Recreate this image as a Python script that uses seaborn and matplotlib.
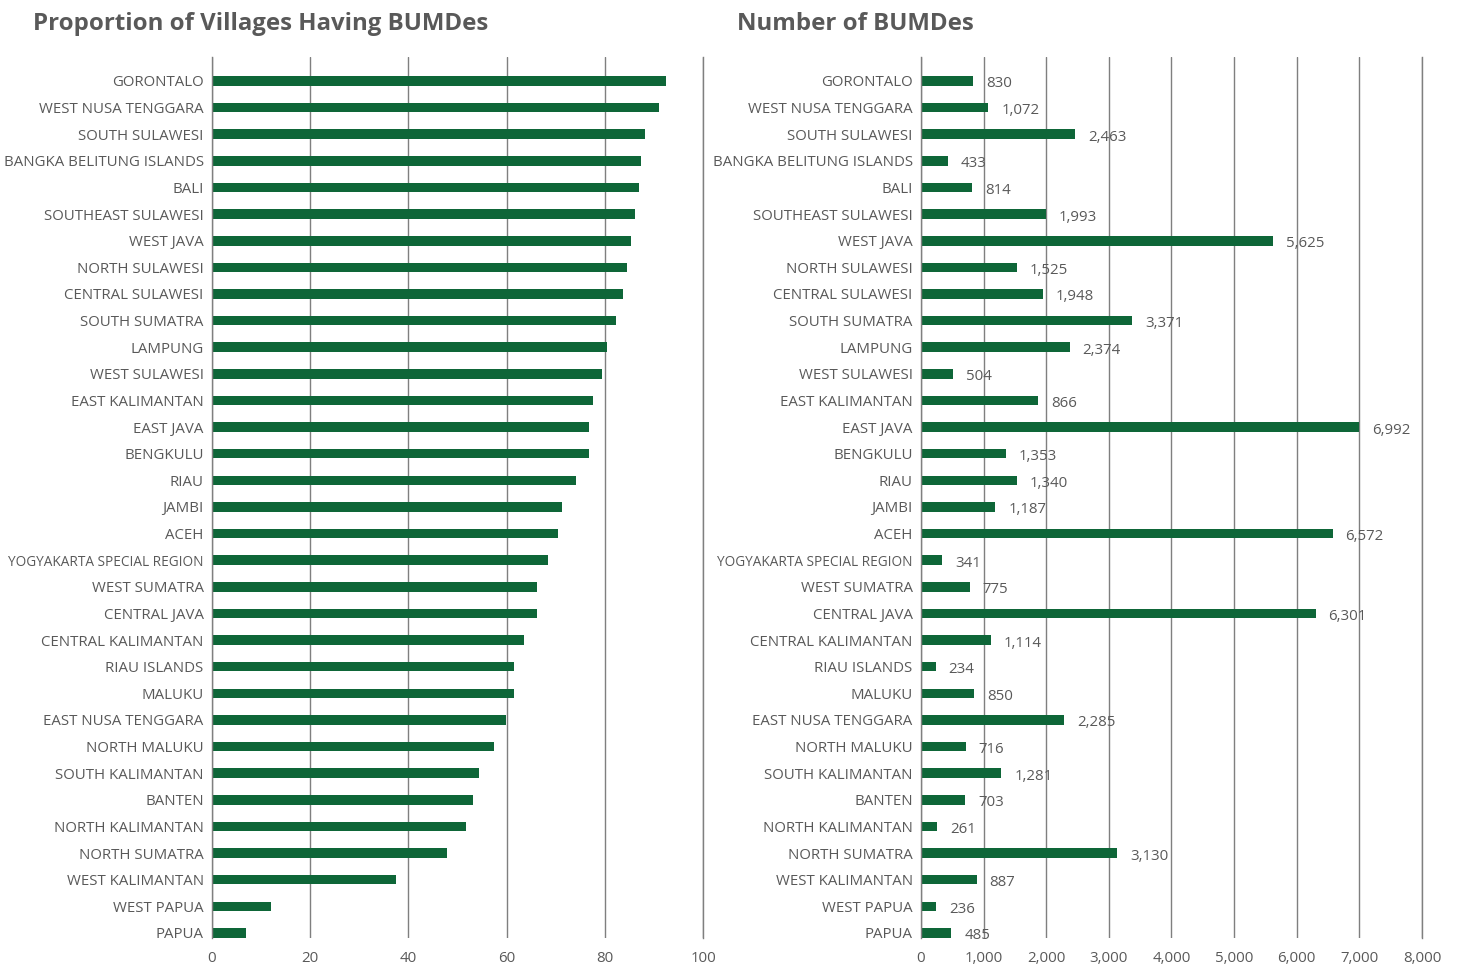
import matplotlib
matplotlib.use("Agg")
import matplotlib.pyplot as plt
import seaborn as sns
import pandas as pd
from matplotlib.ticker import FuncFormatter, FixedLocator

provinces = [
    "GORONTALO", "WEST NUSA TENGGARA", "SOUTH SULAWESI", "BANGKA BELITUNG ISLANDS",
    "BALI", "SOUTHEAST SULAWESI", "WEST JAVA", "NORTH SULAWESI", "CENTRAL SULAWESI",
    "SOUTH SUMATRA", "LAMPUNG", "WEST SULAWESI", "EAST KALIMANTAN", "EAST JAVA",
    "BENGKULU", "RIAU", "JAMBI", "ACEH", "YOGYAKARTA SPECIAL REGION", "WEST SUMATRA",
    "CENTRAL JAVA", "CENTRAL KALIMANTAN", "RIAU ISLANDS", "MALUKU", "EAST NUSA TENGGARA",
    "NORTH MALUKU", "SOUTH KALIMANTAN", "BANTEN", "NORTH KALIMANTAN", "NORTH SUMATRA",
    "WEST KALIMANTAN", "WEST PAPUA", "PAPUA",
]
proportion = [
    92.5, 91.0, 88.1, 87.4, 86.9, 86.1, 85.3, 84.5, 83.7, 82.3, 80.4, 79.4, 77.5,
    76.8, 76.8, 74.1, 71.3, 70.5, 68.4, 66.1, 66.1, 63.6, 61.5, 61.5, 59.9, 57.4,
    54.4, 53.2, 51.7, 47.8, 37.4, 12.0, 6.9,
]
bumdes_count = [
    830, 1072, 2463, 433, 814, 1993, 5625, 1525, 1948, 3371, 2374, 504, 1866,
    6992, 1353, 1525, 1187, 6572, 341, 775, 6301, 1114, 234, 850, 2285, 716,
    1281, 703, 261, 3130, 887, 236, 485,
]
bumdes_labels = [
    "830", "1,072", "2,463", "433", "814", "1,993", "5,625", "1,525", "1,948",
    "3,371", "2,374", "504", "866", "6,992", "1,353", "1,340", "1,187", "6,572",
    "341", "775", "6,301", "1,114", "234", "850", "2,285", "716", "1,281", "703",
    "261", "3,130", "887", "236", "485",
]
prop_ticks = [0, 20, 40, 60, 80, 100]
count_ticks = [0, 1000, 2000, 3000, 4000, 5000, 6000, 7000, 8000]
titles = ["Proportion of Villages Having BUMDes", "Number of BUMDes"]

GREEN = "#0E6638"
TEXT = "#595959"
GRID = "#7F7F7F"

sns.set_theme(style="white")
plt.rcParams["font.family"] = ["Open Sans", "DejaVu Sans"]

W, H = 1458, 965
fig = plt.figure(figsize=(W / 100, H / 100), dpi=100)
top_px, bot_px = 57, 938
ax1 = fig.add_axes([212 / W, 1 - bot_px / H, (703 - 212) / W, (bot_px - top_px) / H])
ax2 = fig.add_axes([921 / W, 1 - bot_px / H, (1422 - 921) / W, (bot_px - top_px) / H])

df = pd.DataFrame({"province": provinces, "proportion": proportion,
                   "count": bumdes_count, "label": bumdes_labels})

sns.barplot(data=df, x="proportion", y="province", ax=ax1, color=GREEN,
            width=0.36, orient="h", saturation=1, linewidth=0)
sns.barplot(data=df, x="count", y="province", ax=ax2, color=GREEN,
            width=0.36, orient="h", saturation=1, linewidth=0)

n = len(provinces)
for ax, ticks in ((ax1, prop_ticks), (ax2, count_ticks)):
    ax.set_xlim(ticks[0], ticks[-1])
    ax.set_ylim(n - 1 + 0.19, -0.9)
    ax.xaxis.set_major_locator(FixedLocator(ticks))
    ax.set_axisbelow(True)
    ax.grid(axis="x", color=GRID, linewidth=1.0)
    ax.grid(axis="y", visible=False)
    for side in ("top", "bottom"):
        ax.spines[side].set_visible(False)
    for side in ("left", "right"):
        ax.spines[side].set_visible(True)
        ax.spines[side].set_color(GRID)
        ax.spines[side].set_linewidth(1.0)
    ax.set_xlabel("")
    ax.set_ylabel("")
    ax.tick_params(axis="y", length=0, pad=6, labelsize=10.8, labelcolor=TEXT)
    ax.tick_params(axis="x", length=0, pad=9, labelsize=10.8, labelcolor=TEXT)
    ax.set_facecolor("white")
    # long label is squeezed in the reference
    for tl in ax.get_yticklabels():
        if len(tl.get_text()) > 23:
            tl.set_fontsize(9.8)

ax2.xaxis.set_major_formatter(FuncFormatter(lambda v, p: f"{int(v):,}"))
ax1.xaxis.set_major_formatter(FuncFormatter(lambda v, p: f"{int(v)}"))

for i, (v, lbl) in enumerate(zip(bumdes_count, bumdes_labels)):
    ax2.annotate(lbl, xy=(v, i), xytext=(13, -1), textcoords="offset pixels",
                 va="center_baseline", ha="left", fontsize=10.8, color=TEXT)

fig.text(33 / W, 1 - 24 / H, titles[0], fontsize=17.3, fontweight="bold",
         color=TEXT, ha="left", va="center")
fig.text(737 / W, 1 - 24 / H, titles[1], fontsize=17.3, fontweight="bold",
         color=TEXT, ha="left", va="center")

fig.savefig("out.png", dpi=100, facecolor="white")
